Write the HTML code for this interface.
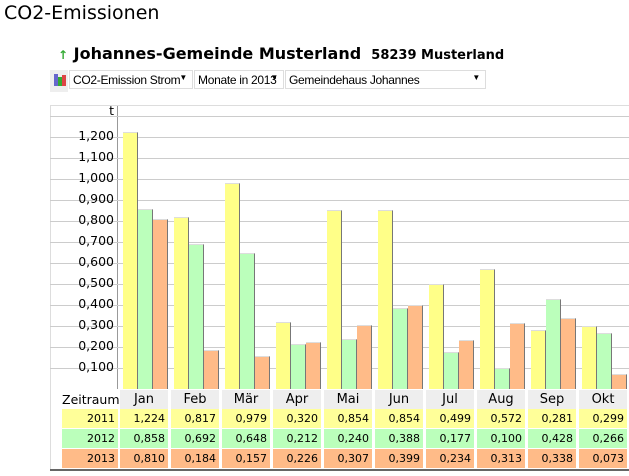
<!DOCTYPE html><html><head><style>
body{margin:0;width:629px;height:476px;background:#fff;font-family:"Liberation Sans",sans-serif;position:relative;overflow:hidden}
div{position:absolute;box-sizing:border-box}
.dd{top:70px;height:19px;border:1px solid #ddd;font-size:12px;letter-spacing:-0.3px;padding:2px 3px;white-space:nowrap;overflow:hidden;font-family:"Liberation Sans",sans-serif}
.dd span{position:absolute;right:5px;top:2px;font-size:8px}
.c{height:19px;font-family:"DejaVu Sans",sans-serif;font-size:11px;text-align:right;padding:3px 3px 0 0}
.h{height:19px;background:#eee;font-family:"DejaVu Sans",sans-serif;font-size:13px;text-align:center;padding-top:2px}
.gl{left:50px;width:579px;height:1px;background:#ccc}
.yl{left:50px;width:64px;text-align:right;font-family:"DejaVu Sans",sans-serif;font-size:12.5px;height:16px}
.b{width:15px;border-right:1px solid #777;border-top:1px solid #ddd}
</style></head><body>
<div style="left:4px;top:2px;font-size:19px;font-family:'DejaVu Sans',sans-serif">CO2-Emissionen</div>
<div style="left:58px;top:44px;font-size:16px;font-weight:bold;font-family:'DejaVu Sans',sans-serif;white-space:nowrap"><span style="color:#3a3;font-size:12px">↑</span> Johannes-Gemeinde Musterland <span style="font-size:13px">&nbsp;58239 Musterland</span></div>
<div style="left:50px;top:70px;width:18px;height:22px;background:#eee"></div>
<div style="left:54px;top:74px;width:4px;height:12px;background:#66c"></div>
<div style="left:58px;top:77px;width:4px;height:9px;background:#3a3"></div>
<div style="left:62px;top:75px;width:4px;height:11px;background:#d44"></div>
<div class="dd" style="left:69px;width:124px">CO2-Emission Strom<span>▼</span></div>
<div class="dd" style="left:194px;width:90px">Monate in 2013<span>▼</span></div>
<div class="dd" style="left:285px;width:201px">Gemeindehaus Johannes<span>▼</span></div>
<div style="left:50px;top:105px;width:579px;height:1px;background:#ddd"></div>
<div style="left:50px;top:105px;width:1px;height:365px;background:#ddd"></div>
<div style="left:117px;top:106px;width:1px;height:283px;background:#999"></div>
<div class="yl" style="top:103px">t</div>
<div class="gl" style="top:116px"></div>
<div id="g"></div>
<div style="left:50px;top:469px;width:579px;height:2px;background:#666"></div>
<script>
var g='',m=['Jan','Feb','Mär','Apr','Mai','Jun','Jul','Aug','Sep','Okt'],
d=[[1.224,.817,.979,.320,.854,.854,.499,.572,.281,.299],[.858,.692,.648,.212,.240,.388,.177,.100,.428,.266],[.810,.184,.157,.226,.307,.399,.234,.313,.338,.073]],
col=['#ffff88','#bbffbb','#ffbb88'],tc=['#ffff99','#bbffbb','#ffbb88'];
for(var k=1;k<=12;k++){var y=389-k*21;g+='<div class="gl" style="top:'+y+'px"></div><div class="yl" style="top:'+(y-9)+'px">'+(k/10).toFixed(3).replace('.',',')+'</div>';}
for(var i=0;i<10;i++){var x=120+51*i;
for(var s=0;s<3;s++){var h=Math.round(d[s][i]*210);g+='<div class="b" style="left:'+(x+3+15*s)+'px;top:'+(389-h)+'px;height:'+h+'px;background:'+col[s]+'"></div>';}
g+='<div class="h" style="left:'+x+'px;top:390px;width:48px">'+m[i]+'</div>';
for(var s=0;s<3;s++)g+='<div class="c" style="left:'+x+'px;top:'+(409+20*s)+'px;width:48px;background:'+tc[s]+'">'+d[s][i].toFixed(3).replace('.',',')+'</div>';}
g+='<div class="h" style="left:62px;top:390px;width:56px;background:#fff;text-align:left;padding-left:0;font-size:12.5px">Zeitraum</div>';
for(var s=0;s<3;s++)g+='<div class="c" style="left:62px;top:'+(409+20*s)+'px;width:56px;background:'+tc[s]+'">'+(2011+s)+'</div>';
document.getElementById('g').outerHTML=g;
</script>
</body></html>
